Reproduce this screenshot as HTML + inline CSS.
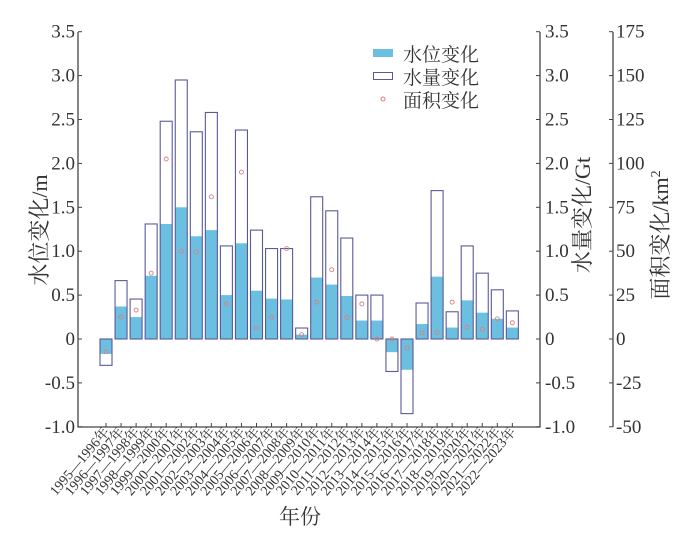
<!DOCTYPE html>
<html><head><meta charset="utf-8">
<style>body{margin:0;background:#fff}svg{display:block}</style></head>
<body>
<svg id="c" width="700" height="535" xmlns="http://www.w3.org/2000/svg" font-family="'Liberation Serif','Noto Serif CJK SC',serif">
<rect width="700" height="535" fill="#fff"/>
<g id="bars"></g>
<g stroke="#444" stroke-width="1.3" fill="none">
<path d="M78,32 V427 H540 V32"/>
<path d="M613,32 V427"/>
</g>
<g id="ticks" stroke="#444" stroke-width="1"></g>
<g id="labels" font-size="19" fill="#333"></g>
<g font-size="19" fill="#333">
<rect x="373" y="49" width="20" height="8" fill="#6bbfe0"/>
<rect x="373.5" y="72.5" width="19" height="7" fill="#fff" stroke="#5a5a9a"/>
<circle cx="383" cy="99" r="2" fill="none" stroke="#d98080"/>
<text x="403" y="61">水位变化</text>
<text x="403" y="84">水量变化</text>
<text x="403" y="107">面积变化</text>
</g>
<text transform="translate(47,230) rotate(-90)" text-anchor="middle" font-size="22" fill="#333">水位变化/m</text>
<text transform="translate(590,215) rotate(-90)" text-anchor="middle" font-size="22" fill="#333">水量变化/Gt</text>
<text transform="translate(668,235) rotate(-90)" text-anchor="middle" font-size="22" fill="#333">面积变化/km<tspan font-size="14" dy="-8">2</tspan></text>
<text x="300" y="524" text-anchor="middle" font-size="21" fill="#333">年份</text>
</svg>
<script>
var ns="http://www.w3.org/2000/svg";
function el(t,a,p,txt){var e=document.createElementNS(ns,t);for(var k in a)e.setAttribute(k,a[k]);if(txt!==undefined)e.textContent=txt;p.appendChild(e);return e;}
function Y(v){return 339-87.8*v;}
var box=[-0.3,0.665,0.455,1.31,2.48,2.95,2.36,2.58,1.06,2.38,1.24,1.03,1.03,0.125,1.62,1.46,1.15,0.5,0.5,-0.37,-0.85,0.41,1.69,0.31,1.06,0.75,0.56,0.32];
var fill=[-0.17,0.37,0.25,0.72,1.31,1.5,1.17,1.24,0.5,1.09,0.55,0.46,0.45,0.05,0.70,0.62,0.49,0.21,0.21,-0.15,-0.35,0.17,0.71,0.13,0.44,0.30,0.23,0.13];
var dot=[-0.145,0.25,0.33,0.75,2.05,1.0,0.99,1.62,0.40,1.9,0.125,0.25,1.03,0.05,0.42,0.79,0.245,0.40,0,0,-0.1,0.07,0.075,0.42,0.135,0.11,0.23,0.185];
var B=document.getElementById('bars'),T=document.getElementById('ticks'),L=document.getElementById('labels');
for(var i=0;i<28;i++){
 var cx=106+15.05*i,x=cx-6;
 var f=fill[i],b=box[i];
 el('rect',{x:x,y:Math.min(Y(0),Y(f)),width:12,height:Math.abs(Y(f)-Y(0)),fill:'#6bbfe0'},B);
 el('rect',{x:x,y:Math.min(Y(0),Y(b)),width:12,height:Math.abs(Y(b)-Y(0)),fill:'none',stroke:'#5a5a9a','stroke-width':1.1},B);
 el('circle',{cx:cx,cy:Y(dot[i]),r:2,fill:'none',stroke:'#d98080','stroke-width':0.9},B);
 el('line',{x1:cx,y1:427,x2:cx,y2:423},T);
 el('text',{transform:'translate('+(cx+4)+',432) rotate(-50)','text-anchor':'end','font-size':'14'},L,(1995+i)+'—'+(1996+i)+'年');
}
var vals=[3.5,3.0,2.5,2.0,1.5,1.0,0.5,0,-0.5,-1.0];
var km=[175,150,125,100,75,50,25,0,-25,-50];
for(var j=0;j<10;j++){
 var v=vals[j],y=Y(v),s=(v===0)?'0':v.toFixed(1);
 el('line',{x1:78,y1:y,x2:82,y2:y},T);
 el('line',{x1:540,y1:y,x2:536,y2:y},T);
 el('line',{x1:613,y1:y,x2:609,y2:y},T);
 el('text',{x:75,y:y+6,'text-anchor':'end'},L,s);
 el('text',{x:545,y:y+6},L,s);
 el('text',{x:616,y:y+6},L,String(km[j]));
}
</script>
</body></html>
